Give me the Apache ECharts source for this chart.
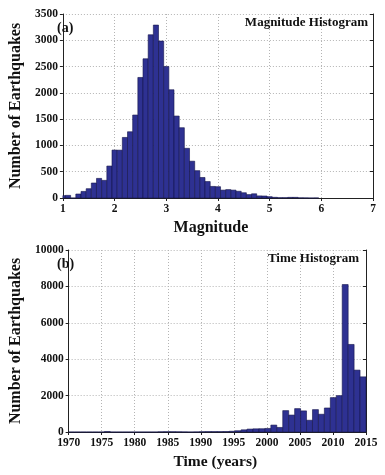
<!DOCTYPE html>
<html>
<head>
<meta charset="utf-8">
<script src="https://cdn.jsdelivr.net/npm/echarts@6/dist/echarts.min.js"></script>
<style>
  html, body { margin: 0; padding: 0; background: #fff; }
  #chart { width: 385px; height: 475px; }
</style>
</head>
<body>
<div id="chart"></div>
<script>
// magnitude histogram, bin width 0.1
const magCenters = [
  1.0, 1.1, 1.2, 1.3, 1.4, 1.5, 1.6, 1.7, 1.8, 1.9,
  2.0, 2.1, 2.2, 2.3, 2.4, 2.5, 2.6, 2.7, 2.8, 2.9,
  3.0, 3.1, 3.2, 3.3, 3.4, 3.5, 3.6, 3.7, 3.8, 3.9,
  4.0, 4.1, 4.2, 4.3, 4.4, 4.5, 4.6, 4.7, 4.8, 4.9,
  5.0, 5.1, 5.2, 5.3, 5.4, 5.5, 5.6, 5.7, 5.8, 5.9
]
const magCounts = [
  45, 50, 0, 76, 125, 177, 285, 373, 335, 608,
  912, 910, 1152, 1260, 1578, 2293, 2648, 3105, 3289, 2985,
  2502, 2059, 1559, 1337, 945, 700, 520, 390, 313, 220,
  215, 150, 160, 150, 128, 100, 65, 80, 40, 38,
  25, 13, 6, 6, 12, 12, 3, 2, 0, 1
]
const magBinWidth = 0.1

// time histogram, bin width 0.9 years
const yearCenters = [
  1970.45, 1971.35, 1972.25, 1973.15, 1974.05, 1974.95, 1975.85, 1976.75, 1977.65, 1978.55,
  1979.45, 1980.35, 1981.25, 1982.15, 1983.05, 1983.95, 1984.85, 1985.75, 1986.65, 1987.55,
  1988.45, 1989.35, 1990.25, 1991.15, 1992.05, 1992.95, 1993.85, 1994.75, 1995.65, 1996.55,
  1997.45, 1998.35, 1999.25, 2000.15, 2001.05, 2001.95, 2002.85, 2003.75, 2004.65, 2005.55,
  2006.45, 2007.35, 2008.25, 2009.15, 2010.05, 2010.95, 2011.85, 2012.75, 2013.65, 2014.55
]
const yearCounts = [
  0, 0, 0, 0, 0, 0, 25, 0, 0, 0,
  0, 0, 0, 0, 0, 10, 15, 15, 10, 5,
  0, 5, 15, 20, 20, 20, 25, 40, 70, 120,
  160, 175, 180, 195, 380, 250, 1175, 930, 1285, 1160,
  645, 1230, 975, 1320, 1890, 2000, 8100, 4810, 3400, 3030
]
const yearBinWidth = 0.9

const font = 'Liberation Serif, Times New Roman, serif'
const barFill = '#2e3192'
const barEdge = '#14144a'

function histBars(width) {
  return function (params, api) {
    const x = api.value(0)
    const y = api.value(1)
    const p0 = api.coord([x - width / 2, y])
    const p1 = api.coord([x + width / 2, 0])
    const cs = params.coordSys
    const shape = echarts.graphic.clipRectByRect(
      { x: p0[0], y: p0[1], width: p1[0] - p0[0], height: p1[1] - p0[1] },
      { x: cs.x, y: cs.y, width: cs.width, height: cs.height }
    )
    if (!shape) return
    return {
      type: 'rect',
      shape: shape,
      style: { fill: barFill, stroke: barEdge, lineWidth: 0.6 }
    }
  }
}

const gridLine = { show: true, lineStyle: { color: '#b4b4b4', type: [1, 2], width: 1 } }
const axisLine = { show: true, lineStyle: { color: '#222', width: 1 } }
const tickLabel = {
  color: '#111', fontFamily: font, fontWeight: 'bold', fontSize: 11.5,
  formatter: v => String(v)
}
const nameStyle = { color: '#111', fontFamily: font, fontWeight: 'bold', fontSize: 16 }

function frameAxis(gridIndex, min, max, interval, pos) {
  return {
    type: 'value', gridIndex, position: pos, min, max, interval,
    axisLine: axisLine,
    axisTick: { show: true, inside: true, length: 3, lineStyle: { color: '#222' } },
    axisLabel: { show: false },
    splitLine: { show: false }
  }
}

const chart = echarts.init(document.getElementById('chart'))

chart.setOption({
  animation: false,
  title: [
    { text: '(a)', left: 57, top: 21, padding: 0,
      textStyle: { fontFamily: font, fontWeight: 'bold', fontSize: 14, color: '#111' } },
    { text: 'Magnitude Histogram', right: 17, top: 16, padding: 0,
      textStyle: { fontFamily: font, fontWeight: 'bold', fontSize: 13, color: '#111' } },
    { text: '(b)', left: 57, top: 257, padding: 0,
      textStyle: { fontFamily: font, fontWeight: 'bold', fontSize: 14, color: '#111' } },
    { text: 'Time Histogram', right: 26, top: 252, padding: 0,
      textStyle: { fontFamily: font, fontWeight: 'bold', fontSize: 13, color: '#111' } }
  ],
  grid: [
    { left: 52, right: 12, top: 14, height: 184 },
    { left: 52, right: 19, top: 250, height: 182 }
  ],
  xAxis: [
    {
      type: 'value', gridIndex: 0, min: 1, max: 7, interval: 1,
      name: 'Magnitude', nameLocation: 'middle', nameGap: 22,
      nameTextStyle: Object.assign({}, nameStyle, { padding: [0, 14, 0, 0] }),
      axisLine: axisLine,
      axisTick: { show: true, length: 3, lineStyle: { color: '#222' } },
      axisLabel: Object.assign({ margin: 5 }, tickLabel),
      splitLine: gridLine
    },
    frameAxis(0, 1, 7, 1, 'top'),
    {
      type: 'value', gridIndex: 1, min: 1970, max: 2015, interval: 5,
      name: 'Time (years)', nameLocation: 'middle', nameGap: 22,
      nameTextStyle: Object.assign({}, nameStyle, { fontSize: 15.5, padding: [0, 4, 0, 0] }),
      axisLine: axisLine,
      axisTick: { show: true, length: 3, lineStyle: { color: '#222' } },
      axisLabel: Object.assign({ margin: 5 }, tickLabel),
      splitLine: gridLine
    },
    frameAxis(1, 1970, 2015, 5, 'top')
  ],
  yAxis: [
    {
      type: 'value', gridIndex: 0, min: 0, max: 3500, interval: 500,
      name: 'Number of Earthquakes', nameLocation: 'middle', nameGap: 33, nameTextStyle: nameStyle,
      axisLine: axisLine,
      axisTick: { show: true, length: 3, lineStyle: { color: '#222' } },
      axisLabel: Object.assign({ margin: 5 }, tickLabel),
      splitLine: gridLine
    },
    frameAxis(0, 0, 3500, 500, 'right'),
    {
      type: 'value', gridIndex: 1, min: 0, max: 10000, interval: 2000,
      name: 'Number of Earthquakes', nameLocation: 'middle', nameGap: 33, nameTextStyle: nameStyle,
      axisLine: axisLine,
      axisTick: { show: true, length: 3, lineStyle: { color: '#222' } },
      axisLabel: Object.assign({ margin: 5 }, tickLabel),
      splitLine: gridLine
    },
    frameAxis(1, 0, 10000, 2000, 'right')
  ],
  series: [
    {
      type: 'custom', xAxisIndex: 0, yAxisIndex: 0,
      renderItem: histBars(magBinWidth),
      data: magCenters.map((m, i) => [m, magCounts[i]])
    },
    {
      type: 'custom', xAxisIndex: 2, yAxisIndex: 2,
      renderItem: histBars(yearBinWidth),
      data: yearCenters.map((t, i) => [t, yearCounts[i]])
    }
  ]
})
</script>
</body>
</html>
